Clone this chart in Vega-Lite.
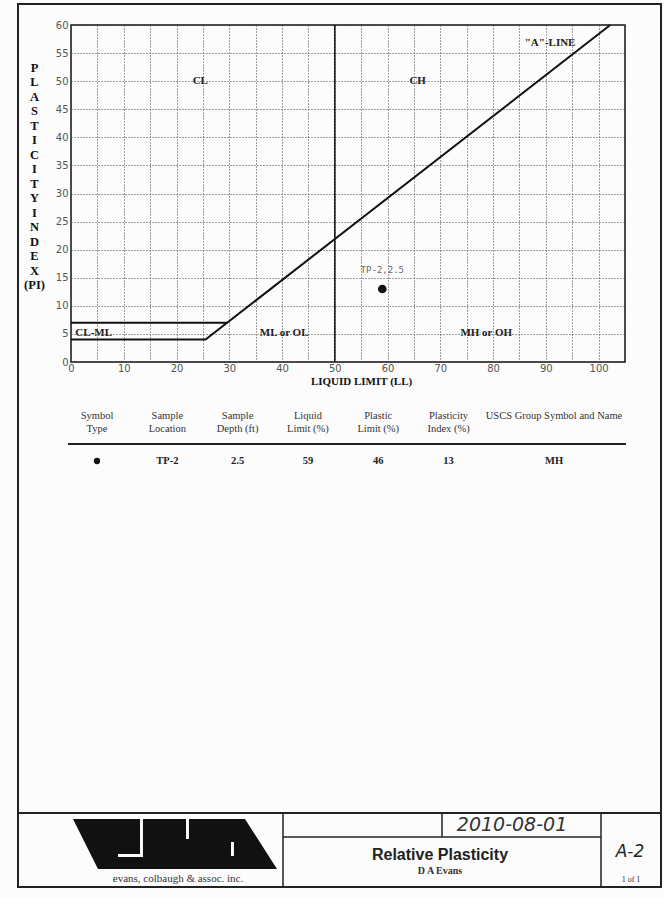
{
  "$schema": "https://vega.github.io/schema/vega-lite/v6.json",
  "width": 554,
  "height": 337,
  "autosize": "none",
  "padding": {"left": 71, "top": 25, "right": 39, "bottom": 536},
  "background": "#fcfcfc",
  "config": {
    "view": {"stroke": "#111", "strokeWidth": 1.5},
    "axis": {
      "domain": false,
      "ticks": false,
      "gridColor": "#444",
      "gridDash": [1, 2],
      "gridWidth": 1,
      "labelFont": "DejaVu Sans",
      "labelFontSize": 10,
      "labelColor": "#555",
      "labelFlush": false,
      "labelOverlap": false,
      "titleFont": "Liberation Serif",
      "titleFontWeight": "bold",
      "titleFontSize": 11,
      "titleColor": "#111"
    }
  },
  "datasets": {
    "samples": [
      {"symbol": "circle", "location": "TP-2", "depth": 2.5, "LL": 59, "PL": 46, "PI": 13, "uscs": "MH", "label": "TP-2,2.5"}
    ],
    "boundaries": [
      {"seg": "A-line", "LL": 0, "PI": 4},
      {"seg": "A-line", "LL": 25.5, "PI": 4},
      {"seg": "A-line", "LL": 102.2, "PI": 60},
      {"seg": "CL-ML top", "LL": 0, "PI": 7},
      {"seg": "CL-ML top", "LL": 29.6, "PI": 7}
    ],
    "zones": [
      {"zone": "CL", "LL": 24.5, "PI": 50},
      {"zone": "CH", "LL": 65.7, "PI": 50},
      {"zone": "\"A\"-LINE", "LL": 90.8, "PI": 56.8},
      {"zone": "CL-ML", "LL": 4.3, "PI": 5.2},
      {"zone": "ML or OL", "LL": 40.4, "PI": 5.2},
      {"zone": "MH or OH", "LL": 78.7, "PI": 5.2}
    ],
    "columns": [
      {"key": "symbol", "header": "Symbol\nType"},
      {"key": "location", "header": "Sample\nLocation"},
      {"key": "depth", "header": "Sample\nDepth (ft)"},
      {"key": "LL", "header": "Liquid\nLimit (%)"},
      {"key": "PL", "header": "Plastic\nLimit (%)"},
      {"key": "PI", "header": "Plasticity\nIndex (%)"},
      {"key": "uscs", "header": "USCS Group Symbol and Name"}
    ]
  },
  "resolve": {"scale": {"x": "independent", "y": "independent"}, "axis": {"x": "independent", "y": "independent"}},
  "layer": [
    {
      "data": {"values": [{}]},
      "mark": {"type": "rule", "color": "#111", "strokeWidth": 1.5},
      "encoding": {
        "x": {"datum": 50, "type": "quantitative", "axis": null, "scale": {"domain": [0, 105], "nice": false, "zero": false}}
      }
    },
    {
      "data": {"name": "boundaries"},
      "mark": {"type": "line", "color": "#111", "strokeWidth": 2},
      "encoding": {
        "x": {"field": "LL", "type": "quantitative", "axis": null, "scale": {"domain": [0, 105], "nice": false, "zero": false}},
        "y": {"field": "PI", "type": "quantitative", "axis": null, "scale": {"domain": [0, 60], "nice": false, "zero": false}},
        "detail": {"field": "seg"}
      }
    },
    {
      "data": {"name": "zones"},
      "mark": {"type": "text", "font": "Liberation Serif", "fontWeight": "bold", "fontSize": 11, "color": "#222"},
      "encoding": {
        "x": {"field": "LL", "type": "quantitative", "axis": null, "scale": {"domain": [0, 105], "nice": false, "zero": false}},
        "y": {"field": "PI", "type": "quantitative", "axis": null, "scale": {"domain": [0, 60], "nice": false, "zero": false}},
        "text": {"field": "zone"}
      }
    },
    {
      "data": {"name": "samples"},
      "mark": {"type": "point", "filled": true, "color": "#111", "size": 75, "opacity": 1},
      "encoding": {
        "x": {
          "field": "LL", "type": "quantitative",
          "scale": {"domain": [0, 105], "nice": false, "zero": false},
          "axis": {"orient": "bottom", "title": "LIQUID LIMIT (LL)", "values": [0, 5, 10, 15, 20, 25, 30, 35, 40, 45, 50, 55, 60, 65, 70, 75, 80, 85, 90, 95, 100], "labelExpr": "datum.value % 10 === 0 ? datum.label : ''", "grid": true, "labelPadding": 1, "titlePadding": 2, "titleX": 290}
        },
        "y": {
          "field": "PI", "type": "quantitative",
          "scale": {"domain": [0, 60], "nice": false, "zero": false},
          "axis": {"orient": "left", "title": ["P", "L", "A", "S", "T", "I", "C", "I", "T", "Y", "\u00a0", "I", "N", "D", "E", "X", "\u00a0", "(PI)"], "values": [0, 5, 10, 15, 20, 25, 30, 35, 40, 45, 50, 55, 60], "grid": true, "labelPadding": 3, "titleAngle": 0, "titleAlign": "center", "titleBaseline": "top", "titleX": -37, "titleY": 36, "titleLineHeight": 14.5, "titleFontSize": 12.5}
        }
      }
    },
    {
      "data": {"name": "samples"},
      "mark": {"type": "text", "dy": -19, "font": "DejaVu Sans Mono", "fontSize": 9, "color": "#666"},
      "encoding": {
        "x": {"field": "LL", "type": "quantitative", "axis": null, "scale": {"domain": [0, 105], "nice": false, "zero": false}},
        "y": {"field": "PI", "type": "quantitative", "axis": null, "scale": {"domain": [0, 60], "nice": false, "zero": false}},
        "text": {"field": "label"}
      }
    },
    {
      "data": {"name": "columns"},
      "mark": {"type": "text", "font": "Liberation Serif", "fontSize": 10.5, "color": "#333", "baseline": "top", "lineBreak": "\n", "lineHeight": 13},
      "encoding": {
        "x": {"field": "key", "type": "nominal", "axis": null,
              "scale": {"type": "point", "padding": 0, "range": [26, 483],
                        "domain": ["symbol", "s1", "location", "s2", "depth", "s3", "LL", "s4", "PL", "s5", "PI", "s6", "s7", "uscs"]}},
        "y": {"datum": "header", "type": "nominal", "axis": null,
              "scale": {"type": "point", "padding": 0, "domain": ["header", "data"], "range": [386, 436]}},
        "text": {"field": "header"}
      }
    },
    {
      "data": {"name": "samples"},
      "transform": [{"fold": ["location", "depth", "LL", "PL", "PI", "uscs"], "as": ["key", "value"]}],
      "mark": {"type": "text", "font": "Liberation Serif", "fontWeight": "bold", "fontSize": 10.5, "color": "#222", "baseline": "middle"},
      "encoding": {
        "x": {"field": "key", "type": "nominal", "axis": null,
              "scale": {"type": "point", "padding": 0, "range": [26, 483],
                        "domain": ["symbol", "s1", "location", "s2", "depth", "s3", "LL", "s4", "PL", "s5", "PI", "s6", "s7", "uscs"]}},
        "y": {"datum": "data", "type": "nominal", "axis": null,
              "scale": {"type": "point", "padding": 0, "domain": ["header", "data"], "range": [386, 436]}},
        "text": {"field": "value"}
      }
    },
    {
      "data": {"name": "samples"},
      "mark": {"type": "point", "filled": true, "color": "#111", "size": 40, "opacity": 1},
      "encoding": {
        "x": {"datum": "symbol", "type": "nominal", "axis": null,
              "scale": {"type": "point", "padding": 0, "range": [26, 483],
                        "domain": ["symbol", "s1", "location", "s2", "depth", "s3", "LL", "s4", "PL", "s5", "PI", "s6", "s7", "uscs"]}},
        "y": {"datum": "data", "type": "nominal", "axis": null,
              "scale": {"type": "point", "padding": 0, "domain": ["header", "data"], "range": [386, 436]}},
        "shape": {"field": "symbol", "type": "nominal", "scale": null}
      }
    },
    {
      "data": {"values": [{}]},
      "mark": {"type": "rect", "filled": false, "stroke": "#222", "strokeWidth": 2},
      "encoding": {
        "x": {"datum": 18, "type": "quantitative", "axis": null, "scale": {"domain": [0, 664], "range": [-71, 593], "nice": false, "zero": false}},
        "x2": {"datum": 661},
        "y": {"datum": 4, "type": "quantitative", "axis": null, "scale": {"domain": [0, 898], "range": [-25, 873], "nice": false, "zero": false}},
        "y2": {"datum": 887}
      }
    },
    {
      "data": {"values": [{}]},
      "mark": {"type": "rule", "color": "#222", "strokeWidth": 2},
      "encoding": {
        "x": {"datum": 68, "type": "quantitative", "axis": null, "scale": {"domain": [0, 664], "range": [-71, 593], "nice": false, "zero": false}},
        "x2": {"datum": 626},
        "y": {"datum": 444, "type": "quantitative", "axis": null, "scale": {"domain": [0, 898], "range": [-25, 873], "nice": false, "zero": false}}
      }
    },
    {
      "data": {"values": [{}]},
      "mark": {"type": "rule", "color": "#222", "strokeWidth": 2},
      "encoding": {
        "x": {"datum": 18, "type": "quantitative", "axis": null, "scale": {"domain": [0, 664], "range": [-71, 593], "nice": false, "zero": false}},
        "x2": {"datum": 661},
        "y": {"datum": 813, "type": "quantitative", "axis": null, "scale": {"domain": [0, 898], "range": [-25, 873], "nice": false, "zero": false}}
      }
    },
    {
      "data": {"values": [{}]},
      "mark": {"type": "rule", "color": "#222", "strokeWidth": 1.5},
      "encoding": {
        "x": {"datum": 283, "type": "quantitative", "axis": null, "scale": {"domain": [0, 664], "range": [-71, 593], "nice": false, "zero": false}},
        "y": {"datum": 813, "type": "quantitative", "axis": null, "scale": {"domain": [0, 898], "range": [-25, 873], "nice": false, "zero": false}},
        "y2": {"datum": 887}
      }
    },
    {
      "data": {"values": [{}]},
      "mark": {"type": "rule", "color": "#222", "strokeWidth": 1.5},
      "encoding": {
        "x": {"datum": 601, "type": "quantitative", "axis": null, "scale": {"domain": [0, 664], "range": [-71, 593], "nice": false, "zero": false}},
        "y": {"datum": 813, "type": "quantitative", "axis": null, "scale": {"domain": [0, 898], "range": [-25, 873], "nice": false, "zero": false}},
        "y2": {"datum": 887}
      }
    },
    {
      "data": {"values": [{}]},
      "mark": {"type": "rule", "color": "#222", "strokeWidth": 1.5},
      "encoding": {
        "x": {"datum": 283, "type": "quantitative", "axis": null, "scale": {"domain": [0, 664], "range": [-71, 593], "nice": false, "zero": false}},
        "x2": {"datum": 601},
        "y": {"datum": 837, "type": "quantitative", "axis": null, "scale": {"domain": [0, 898], "range": [-25, 873], "nice": false, "zero": false}}
      }
    },
    {
      "data": {"values": [{}]},
      "mark": {"type": "rule", "color": "#222", "strokeWidth": 1.5},
      "encoding": {
        "x": {"datum": 442, "type": "quantitative", "axis": null, "scale": {"domain": [0, 664], "range": [-71, 593], "nice": false, "zero": false}},
        "y": {"datum": 813, "type": "quantitative", "axis": null, "scale": {"domain": [0, 898], "range": [-25, 873], "nice": false, "zero": false}},
        "y2": {"datum": 837}
      }
    },
    {
      "data": {"values": [{}]},
      "mark": {"type": "point", "filled": true, "color": "#111", "opacity": 1, "size": 41616,
               "shape": "M-1,-0.245L-0.343,-0.245L-0.343,0.098L-0.559,0.098L-0.559,0.127L-0.314,0.127L-0.314,-0.245L0.108,-0.245L0.108,-0.049L0.549,-0.049L0.549,0.118L0.578,0.118L0.578,-0.02L0.137,-0.02L0.137,-0.245L0.686,-0.245L1,0.245L-0.755,0.245Z"},
      "encoding": {
        "x": {"datum": 175, "type": "quantitative", "axis": null, "scale": {"domain": [0, 664], "range": [-71, 593], "nice": false, "zero": false}},
        "y": {"datum": 844, "type": "quantitative", "axis": null, "scale": {"domain": [0, 898], "range": [-25, 873], "nice": false, "zero": false}}
      }
    },
    {
      "data": {"values": [{}]},
      "mark": {"type": "text", "text": "evans, colbaugh & assoc. inc.", "font": "Liberation Serif", "fontSize": 11, "color": "#333"},
      "encoding": {
        "x": {"datum": 178, "type": "quantitative", "axis": null, "scale": {"domain": [0, 664], "range": [-71, 593], "nice": false, "zero": false}},
        "y": {"datum": 879, "type": "quantitative", "axis": null, "scale": {"domain": [0, 898], "range": [-25, 873], "nice": false, "zero": false}}
      }
    },
    {
      "data": {"values": [{}]},
      "mark": {"type": "text", "text": "2010-08-01", "font": "DejaVu Sans", "fontStyle": "italic", "fontSize": 19, "color": "#333"},
      "encoding": {
        "x": {"datum": 512, "type": "quantitative", "axis": null, "scale": {"domain": [0, 664], "range": [-71, 593], "nice": false, "zero": false}},
        "y": {"datum": 825, "type": "quantitative", "axis": null, "scale": {"domain": [0, 898], "range": [-25, 873], "nice": false, "zero": false}}
      }
    },
    {
      "data": {"values": [{}]},
      "mark": {"type": "text", "text": "Relative Plasticity", "font": "Liberation Sans", "fontWeight": "bold", "fontSize": 16, "color": "#222"},
      "encoding": {
        "x": {"datum": 440, "type": "quantitative", "axis": null, "scale": {"domain": [0, 664], "range": [-71, 593], "nice": false, "zero": false}},
        "y": {"datum": 855, "type": "quantitative", "axis": null, "scale": {"domain": [0, 898], "range": [-25, 873], "nice": false, "zero": false}}
      }
    },
    {
      "data": {"values": [{}]},
      "mark": {"type": "text", "text": "D A Evans", "font": "Liberation Serif", "fontWeight": "bold", "fontSize": 10, "color": "#333"},
      "encoding": {
        "x": {"datum": 440, "type": "quantitative", "axis": null, "scale": {"domain": [0, 664], "range": [-71, 593], "nice": false, "zero": false}},
        "y": {"datum": 871, "type": "quantitative", "axis": null, "scale": {"domain": [0, 898], "range": [-25, 873], "nice": false, "zero": false}}
      }
    },
    {
      "data": {"values": [{}]},
      "mark": {"type": "text", "text": "A-2", "font": "DejaVu Sans", "fontStyle": "italic", "fontSize": 17, "color": "#222"},
      "encoding": {
        "x": {"datum": 630, "type": "quantitative", "axis": null, "scale": {"domain": [0, 664], "range": [-71, 593], "nice": false, "zero": false}},
        "y": {"datum": 852, "type": "quantitative", "axis": null, "scale": {"domain": [0, 898], "range": [-25, 873], "nice": false, "zero": false}}
      }
    },
    {
      "data": {"values": [{}]},
      "mark": {"type": "text", "text": "1 of 1", "font": "Liberation Serif", "fontSize": 8, "color": "#333"},
      "encoding": {
        "x": {"datum": 631, "type": "quantitative", "axis": null, "scale": {"domain": [0, 664], "range": [-71, 593], "nice": false, "zero": false}},
        "y": {"datum": 880, "type": "quantitative", "axis": null, "scale": {"domain": [0, 898], "range": [-25, 873], "nice": false, "zero": false}}
      }
    }
  ]
}
